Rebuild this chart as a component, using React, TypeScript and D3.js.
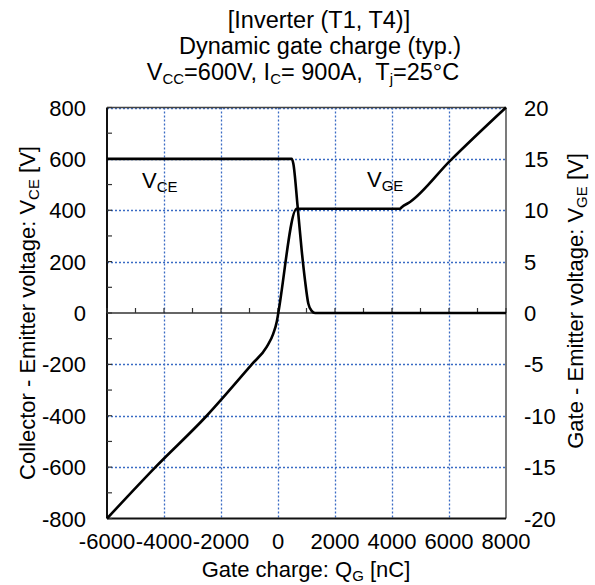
import React from "react";
import * as d3 from "d3";

const qTicks = [-6000, -4000, -2000, 0, 2000, 4000, 6000, 8000];
const qMinorTicks = d3.range(-6000, 8001, 1000);
const vceTicks = [-800, -600, -400, -200, 0, 200, 400, 600, 800];
const vceMinorTicks = d3.range(-800, 801, 100);
const vgeTicks = [-20, -15, -10, -5, 0, 5, 10, 15, 20];

const vceQ = [-6000, 480, 537, 690, 831, 947, 1063, 1182, 1300, 8000];
const vceV = [600, 600, 582, 413, 244, 128, 37, 8, 0, 0];

const vgeQ = [-6000, -4300, -2500, -920, -396, -165, -40, 10, 656, 4281, 4340, 4632, 6035, 8000];
const vgeV = [-20, -15, -10, -5, -3.3, -2.0, -0.8, 0, 10.15, 10.15, 10.3, 10.8, 14.8, 20];

const W = 595, H = 585;
const L = 107, R = 506, T = 107.5, B = 518.5;
const FONT = "Arial, 'Liberation Sans', sans-serif";
const GRID = "#3A6BC4";

export default function App() {
  const x = d3.scaleLinear().domain([-6000, 8000]).range([L, R]);
  const yL = d3.scaleLinear().domain([-800, 800]).range([B, T]);
  const yR = d3.scaleLinear().domain([-20, 20]).range([B, T]);

  const vcePts = vceQ.map((q, i) => [q, vceV[i]] as [number, number]);
  const vgePts = vgeQ.map((q, i) => [q, vgeV[i]] as [number, number]);
  const lineL = d3.line<[number, number]>().x(d => x(d[0])).y(d => yL(d[1])).curve(d3.curveMonotoneX);
  const lineR = d3.line<[number, number]>().x(d => x(d[0])).y(d => yR(d[1])).curve(d3.curveMonotoneX);

  const tickFs = 22;
  const subFs = 15;
  const snap = (v: number) => Math.round(v) + 0.5;

  const gridX = qTicks.filter(q => q > -6000 && q < 8000);
  const gridY = vceTicks.filter(v => v > -800 && v !== 0);

  return (
    <svg width={W} height={H} style={{ position: "absolute", left: 0, top: 0, background: "#fff" }} fontFamily={FONT}>
      <rect x={0} y={0} width={W} height={H} fill="#fff" />
      {/* title */}
      <g fontSize={23.5} textAnchor="middle" fill="#000">
        <text x={319} y={28}>[Inverter (T1, T4)]</text>
        <text x={320} y={54}>Dynamic gate charge (typ.)</text>
        <text x={303} y={80} style={{ whiteSpace: "pre" }}>
          V<tspan fontSize={subFs} dy={4}>CC</tspan><tspan dy={-4}>=600V, I</tspan><tspan fontSize={subFs} dy={4}>C</tspan><tspan dy={-4}>= 900A,  T</tspan><tspan fontSize={subFs} dy={4}>j</tspan><tspan dy={-4}>=25°C</tspan>
        </text>
      </g>

      {/* grid */}
      {gridX.map(q => (
        <line key={"gx" + q} x1={snap(x(q))} x2={snap(x(q))} y1={T} y2={B}
          stroke={GRID} strokeWidth={1.3} strokeDasharray="2,2" />
      ))}
      {gridY.map(v => (
        <line key={"gy" + v} x1={L} x2={R} y1={snap(yL(v))} y2={snap(yL(v))}
          stroke={GRID} strokeWidth={1.3} strokeDasharray="2,2" />
      ))}

      {/* frame */}
      <line x1={L} x2={R} y1={T} y2={T} stroke="#444" strokeWidth={1.5} />
      <line x1={R} x2={R} y1={T} y2={B} stroke="#222" strokeWidth={1.2} />
      <line x1={L} x2={R} y1={B} y2={B} stroke="#111" strokeWidth={2} />
      <line x1={L} x2={L} y1={T} y2={B} stroke="#111" strokeWidth={2} />

      {/* left minor ticks */}
      <g stroke="#333" strokeWidth={1.2}>
        {vceMinorTicks.map(v => (
          <line key={"lt" + v} x1={L} x2={L + 5} y1={yL(v)} y2={yL(v)} />
        ))}
      </g>

      {/* zero axis */}
      <line x1={L} x2={R} y1={yL(0)} y2={yL(0)} stroke="#333" strokeWidth={1.6} />
      <g stroke="#333" strokeWidth={1.2}>
        {qMinorTicks.map(q => (
          <line key={"zt" + q} x1={x(q)} x2={x(q)} y1={yL(0)} y2={yL(0) - 5} />
        ))}
      </g>

      {/* curves */}
      <path d={lineL(vcePts) || ""} fill="none" stroke="#000" strokeWidth={2.6} strokeLinejoin="round" />
      <path d={lineR(vgePts) || ""} fill="none" stroke="#000" strokeWidth={2.6} strokeLinejoin="round" />

      {/* curve labels */}
      <text x={142} y={188} fontSize={tickFs} fill="#000">
        V<tspan fontSize={subFs} dy={4}>CE</tspan>
      </text>
      <text x={367} y={187} fontSize={tickFs} fill="#000">
        V<tspan fontSize={subFs} dy={4}>GE</tspan>
      </text>

      {/* left tick labels */}
      <g fontSize={tickFs} textAnchor="end" fill="#000">
        {vceTicks.map(v => (
          <text key={"ll" + v} x={86} y={yL(v) + 8}>{v}</text>
        ))}
      </g>
      {/* right tick labels */}
      <g fontSize={tickFs} textAnchor="start" fill="#000">
        {vgeTicks.map(v => (
          <text key={"rl" + v} x={524} y={yR(v) + 8}>{v}</text>
        ))}
      </g>
      {/* bottom tick labels */}
      <g fontSize={tickFs} textAnchor="middle" fill="#000">
        {qTicks.map(q => (
          <text key={"bl" + q} x={x(q)} y={549}>{q}</text>
        ))}
      </g>

      {/* axis titles */}
      <text x={306} y={577} fontSize={tickFs} textAnchor="middle" fill="#000">
        Gate charge: Q<tspan fontSize={subFs} dy={4}>G</tspan><tspan dy={-4}> [nC]</tspan>
      </text>
      <text transform={`translate(35, ${(T + B) / 2}) rotate(-90)`} fontSize={tickFs} textAnchor="middle" fill="#000">
        Collector - Emitter voltage: V<tspan fontSize={subFs} dy={4}>CE</tspan><tspan dy={-4}> [V]</tspan>
      </text>
      <text transform={`translate(583, ${(T + B) / 2 - 12}) rotate(-90)`} fontSize={tickFs} textAnchor="middle" fill="#000">
        Gate - Emitter voltage: V<tspan fontSize={subFs} dy={4}>GE</tspan><tspan dy={-4}> [V]</tspan>
      </text>
    </svg>
  );
}
